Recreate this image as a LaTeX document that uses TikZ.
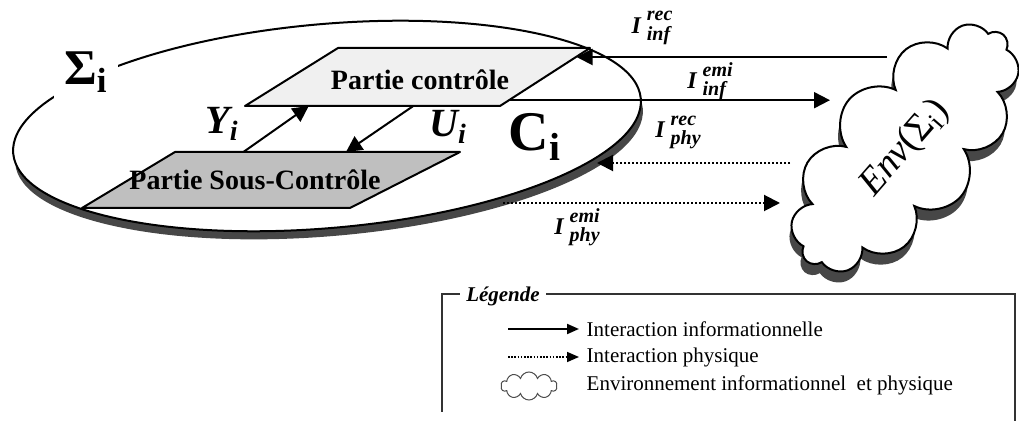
\documentclass[tikz,border=0pt]{standalone}
\usepackage{fontspec}
\setmainfont{Liberation Serif}
\usetikzlibrary{arrows.meta}
\usetikzlibrary{shapes.symbols}
\usetikzlibrary{calc}
\newcommand{\ilab}[2]{\textit{I}\hspace{3pt}\raisebox{1pt}{\fontsize{10}{9.5}\selectfont
  \begin{tabular}{@{}l@{}}#1\\#2\end{tabular}}}
\colorlet{ctrlbg}{black!6}
\colorlet{subbg}{black!25}
\colorlet{shadowbg}{black!72}

\begin{document}
\begin{tikzpicture}[x=0.5pt,y=-0.5pt,line width=1pt,
    info/.style={-{Triangle[length=8pt,width=8pt]}},
    phys/.style={info,dash pattern=on 1pt off 1pt},
    keyinfo/.style={-{Triangle[length=6pt,width=5pt]}},
    keyphys/.style={keyinfo,line width=0.8pt,dash pattern=on 0.8pt off 0.8pt},
    plate/.style={draw,line join=round},
    platetext/.style={font=\fontsize{14}{14}\selectfont\bfseries},
    ilabel/.style={font=\fontsize{12}{12}\selectfont\bfseries\itshape},
    envcloud/.style={cloud,cloud puffs=12,cloud ignores aspect,
      minimum width=150pt,minimum height=74pt,rotate=49},
    keytext/.style={anchor=west,font=\fontsize{10.5}{10.5}\selectfont}]
    \useasboundingbox (0,0) rectangle (1019,421);
    \clip (0,0) rectangle (1019,421);
    % System
    \fill[shadowbg] (329,136) ellipse [x radius=315, y radius=100, rotate=5];
    \draw[fill=white] (327,126) ellipse [x radius=315, y radius=102, rotate=5];
    \node[fill=white,inner sep=5pt] (sigma)
      at (86,72) {\fontsize{25}{25}\selectfont\bfseries Σ\textsubscript{i}};
    \node (ci) at (535,137) {\fontsize{28}{28}\selectfont\bfseries C\textsubscript{i}};
    % Plates
    \coordinate (pcA) at (245,106); \coordinate (pcB) at (500,106);
    \coordinate (pcC) at (590,48);  \coordinate (pcD) at (338,48);
    \draw[plate,fill=ctrlbg] (pcA) -- (pcB) -- (pcC) -- (pcD) -- cycle;
    \node[platetext] (pc) at (420,80) {Partie contrôle};
    \coordinate (psA) at (82,208);  \coordinate (psB) at (350,208);
    \coordinate (psC) at (460,152); \coordinate (psD) at (175,152);
    \draw[plate,fill=subbg] (psA) -- (psB) -- (psC) -- (psD) -- cycle;
    \node[platetext] (ps) at (255,180) {Partie Sous-Contrôle};
    % Y and U
    \coordinate (yfrom) at ($(psD)!0.24!(psC)$);
    \coordinate (yto) at ($(pcA)!0.25!(pcB)$);
    \coordinate (ufrom) at ($(pcA)!0.66!(pcB)$);
    \coordinate (uto) at ($(psD)!0.6!(psC)$);
    \draw[info] (yfrom) -- (yto);
    \draw[info] (ufrom) -- (uto);
    \node[font=\fontsize{20}{20}\selectfont\bfseries\itshape] (yi) at (222,124) {Y\textsubscript{i}};
    \node[font=\fontsize{20}{20}\selectfont\bfseries\itshape] (ui) at (448,127) {U\textsubscript{i}};
    % Environment
    \node[envcloud,fill=shadowbg] (envshadow) at (903,159) {};
    \node[envcloud,draw,fill=white] (env) at (905,148)
      {\fontsize{19}{19}\selectfont\textit{Env}(Σ\textsubscript{i})};
    % Interactions
    \coordinate (recinf) at ($(pcC)!0.15!(pcB)$);
    \coordinate (envrecinf) at (887,57);
    \coordinate (emiinf) at ($(pcB)!0.1!(pcC)$);
    \coordinate (envemiinf) at (830,100);
    \coordinate (envrecphy) at (790,163);
    \coordinate (recphy) at (597,163);
    \coordinate (emiphy) at (503,203);
    \coordinate (envemiphy) at (780,203);
    \draw[info] (envrecinf) -- (recinf |- envrecinf);
    \draw[info] (emiinf) -- (envemiinf |- emiinf);
    \draw[phys] (envrecphy) -- (recphy);
    \draw[phys] (emiphy) -- (envemiphy);
    \node[ilabel] (lrecinf) at (652,27) {\ilab{rec}{inf}};
    \node[ilabel] (lemiinf) at (710,82) {\ilab{emi}{inf}};
    \node[ilabel] (lrecphy) at (678,131) {\ilab{rec}{phy}};
    \node[ilabel] (lemiphy) at (577,228) {\ilab{emi}{phy}};
    % Legend
    \draw[line width=0.6pt,black!80] (442,412) -- (442,294) -- (1015,294) -- (1015,430);
    \node[fill=white,font=\fontsize{10.5}{10.5}\selectfont\bfseries\itshape] (keytitle)
      at (503,296) {Légende};
    \node[keytext] (k1) at (579,329) {Interaction informationnelle};
    \node[keytext] (k2) at (579,357) {Interaction physique};
    \node[keytext] (k3) at (579,385) {Environnement informationnel\ \ et physique};
    \coordinate (k1s) at (508,329);
    \coordinate (k2s) at (508,357);
    \draw[keyinfo] (k1s) -- (k1.west);
    \draw[keyphys] (k2s) -- (k2.west);
    \node[cloud,cloud puffs=10,cloud ignores aspect,draw=black!70,line width=0.5pt,
      minimum width=28pt,minimum height=14pt] (keycloud) at (529,386) {};
\end{tikzpicture}
\end{document}
